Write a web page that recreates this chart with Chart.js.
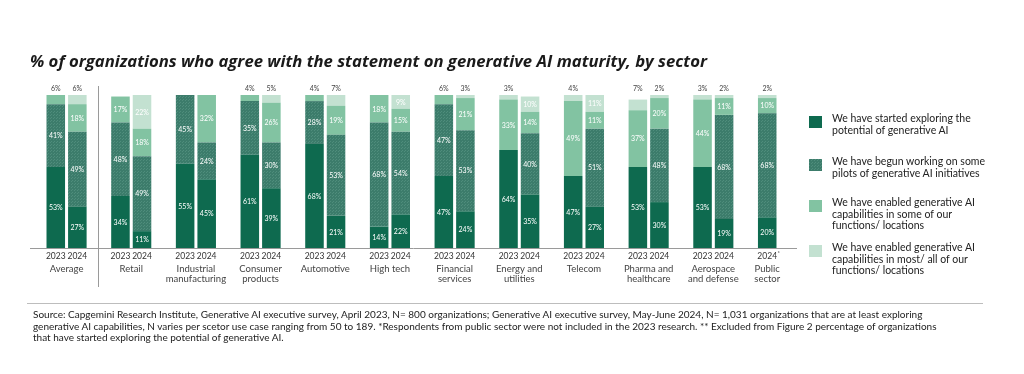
<!DOCTYPE html>
<html>
<head>
<meta charset="utf-8">
<script src="https://cdn.jsdelivr.net/npm/chart.js@4.4.1/dist/chart.umd.min.js"></script>
<style>
  html,body{margin:0;padding:0;background:#fff;}
  body{width:1024px;height:374px;position:relative;overflow:hidden;font-family:Lato,"Open Sans",sans-serif;}
  #c{position:absolute;left:0;top:0;}
  #title{position:absolute;left:30px;top:49px;font:italic bold 17px "Open Sans";color:#1a1a1a;white-space:nowrap;}
  #legend{position:absolute;left:0;top:0;}
  .li{position:absolute;left:809px;}
  .li canvas{position:absolute;left:0;top:3px;}
  .li div{position:absolute;left:23px;top:0;font:10.5px Lato;line-height:11.5px;color:#222;white-space:pre;}
  #rule{position:absolute;left:27px;top:303px;width:956px;height:1px;background:#bdbdbd;}
  #source{position:absolute;left:33px;top:309px;font:10px Lato;line-height:11.5px;color:#222;white-space:pre;}
</style>
</head>
<body>
<canvas id="c" width="1024" height="374"></canvas>
<div id="title">% of organizations who agree with the statement on generative AI maturity, by sector</div>
<div id="legend"></div>
<div id="rule"></div>
<div id="source">Source: Capgemini Research Institute, Generative AI executive survey, April 2023, N= 800 organizations; Generative AI executive survey, May-June 2024, N= 1,031 organizations that are at least exploring
generative AI capabilities, N varies per scetor use case ranging from 50 to 189. *Respondents from public sector were not included in the 2023 research. ** Excluded from Figure 2 percentage of organizations
that have started exploring the potential of generative AI.</div>
<script>
// ---- data ----
const sectors = ["Average","Retail","Industrial\nmanufacturing","Consumer\nproducts","Automotive","High tech",
  "Financial\nservices","Energy and\nutilities","Telecom","Pharma and\nhealthcare","Aerospace\nand defense","Public\nsector"];
const yearsBySector = [["2023","2024"],["2023","2024"],["2023","2024"],["2023","2024"],["2023","2024"],["2023","2024"],
  ["2023","2024"],["2023","2024"],["2023","2024"],["2023","2024"],["2023","2024"],["2024*"]];
// values in bar order (sector by sector, year by year)
const exploring     = [53,27, 34,11, 55,45, 61,39, 68,21, 14,22, 47,24, 64,35, 47,27, 53,30, 53,19, 20];
const pilots        = [41,49, 48,49, 45,24, 35,30, 28,53, 68,54, 47,53,  0,40,  0,51,  0,48,  0,68, 68];
const someFunctions = [ 6,18, 17,18,  0,32,  4,26,  4,19, 18,15,  6,21, 33,14, 49,11, 37,20, 44,11, 10];
const mostFunctions = [ 0, 6,  0,22,  0, 0,  0, 5,  0, 7,  0, 9,  0, 3,  3,10,  4,11,  7, 2,  3, 2,  2];
const seriesLabels = [
  "We have started exploring the\npotential of generative AI",
  "We have begun working on some\npilots of generative AI initiatives",
  "We have enabled generative AI\ncapabilities in some of our\nfunctions/ locations",
  "We have enabled generative AI\ncapabilities in most/ all of our\nfunctions/ locations"
];
const seriesValues = [exploring, pilots, someFunctions, mostFunctions];

// fit title to the reference width
(function () {
  const t = document.getElementById('title');
  const w = t.getBoundingClientRect().width;
  const size = 17 * 677 / w;
  t.style.fontSize = Math.min(18, Math.max(14, size)).toFixed(2) + 'px';
})();

// ---- build slots (bars plus gap slots between sectors) ----
const slotLabels = [], slotBar = [], groupSlots = [];
let b = 0;
yearsBySector.forEach((yrs, gi) => {
  const slots = [];
  yrs.forEach(y => { slots.push(slotLabels.length); slotLabels.push(y); slotBar.push(b++); });
  groupSlots.push(slots);
  if (gi < yearsBySector.length - 1) { slotLabels.push(""); slotBar.push(null); }
});
const slotData = vals => slotBar.map(i => i === null ? null : (vals[i] === 0 ? null : vals[i]));

const canvas = document.getElementById('c');
const ctx = canvas.getContext('2d');
function dotPattern(base, dot) {
  const c = document.createElement('canvas'); c.width = 3; c.height = 3;
  const g = c.getContext('2d');
  g.fillStyle = base; g.fillRect(0,0,3,3);
  g.fillStyle = dot; g.fillRect(0,0,1,1); g.fillRect(2,1,1,1);
  return ctx.createPattern(c, 'repeat');
}
const colors = ['#0e6a4f', dotPattern('#3c7c6b', '#4f8d7c'), '#82c3a2', '#c3e1d1'];

const labelPlugin = {
  id: 'labels',
  afterDatasetsDraw(chart) {
    const c = chart.ctx, area = chart.chartArea, xs = chart.scales.x;
    c.save();
    c.textAlign = 'center'; c.textBaseline = 'middle';
    // in-bar labels
    c.font = '7px Lato';
    chart.data.datasets.forEach((ds, di) => {
      const meta = chart.getDatasetMeta(di);
      meta.data.forEach((el, j) => {
        const v = ds.data[j];
        if (v == null || v < 8) return;
        c.fillStyle = '#ffffff';
        c.fillText(v + '%', el.x, (el.y + el.base) / 2 + 0.5);
      });
    });
    // top labels for small top segments
    c.fillStyle = '#444';
    slotBar.forEach((bi, j) => {
      if (bi === null) return;
      let top = -1;
      chart.data.datasets.forEach((ds, di) => { if (ds.data[j] != null) top = di; });
      const v = chart.data.datasets[top].data[j];
      if (v < 8) {
        const el = chart.getDatasetMeta(top).data[j];
        c.fillText(v + '%', el.x, area.top - 6);
      }
    });
    // baseline and separator
    c.strokeStyle = '#9a9a9a'; c.lineWidth = 1;
    c.beginPath(); c.moveTo(30, Math.round(area.bottom) + 0.5); c.lineTo(797, Math.round(area.bottom) + 0.5); c.stroke();
    const sepX = Math.round(xs.getPixelForValue(groupSlots[0][groupSlots[0].length - 1] + 1)) - 0.5;
    c.beginPath(); c.moveTo(sepX, 86); c.lineTo(sepX, 287); c.stroke();
    // year labels
    c.fillStyle = '#333'; c.font = '8.5px Lato';
    slotLabels.forEach((lab, j) => {
      if (!lab) return;
      const x = xs.getPixelForValue(j);
      const y = area.bottom + 8;
      if (lab.endsWith('*')) {
        const t = lab.slice(0, -1);
        c.fillText(t, x, y);
        const w = c.measureText(t).width;
        c.font = '6px Lato'; c.textAlign = 'left';
        c.fillText('*', x + w / 2 + 0.5, y - 3);
        c.font = '8.5px Lato'; c.textAlign = 'center';
      } else c.fillText(lab, x, y);
    });
    // sector names
    c.fillStyle = '#444'; c.font = '9.5px Lato';
    sectors.forEach((name, gi) => {
      const slots = groupSlots[gi];
      const x = slots.reduce((s, k) => s + xs.getPixelForValue(k), 0) / slots.length;
      name.split('\n').forEach((line, li) => c.fillText(line, x, area.bottom + 21 + li * 9.5));
    });
    c.restore();
  }
};

const chart = new Chart(ctx, {
  type: 'bar',
  data: {
    labels: slotLabels,
    datasets: seriesValues.map((vals, i) => ({
      label: seriesLabels[i], data: slotData(vals), backgroundColor: colors[i],
      borderWidth: 0, barPercentage: 0.86, categoryPercentage: 1
    }))
  },
  options: {
    responsive: false, animation: false, devicePixelRatio: 1,
    layout: { padding: { left: 45, right: 246, top: 95, bottom: 126 } },
    plugins: { legend: { display: false }, tooltip: { enabled: false }, title: { display: false } },
    scales: {
      x: { display: false, stacked: true },
      y: { display: false, stacked: true, min: 0, max: 100 }
    }
  },
  plugins: [labelPlugin]
});

// ---- HTML legend built from the chart's datasets ----
const legendTops = [113, 156, 197, 242];
const legend = document.getElementById('legend');
chart.data.datasets.forEach((ds, i) => {
  const item = document.createElement('div'); item.className = 'li'; item.style.top = legendTops[i] + 'px';
  const sw = document.createElement('canvas'); sw.width = 13; sw.height = 12;
  const g = sw.getContext('2d'); g.fillStyle = ds.backgroundColor; g.fillRect(0, 0, 13, 12);
  const tx = document.createElement('div'); tx.textContent = ds.label;
  item.appendChild(sw); item.appendChild(tx); legend.appendChild(item);
});
</script>
</body>
</html>
